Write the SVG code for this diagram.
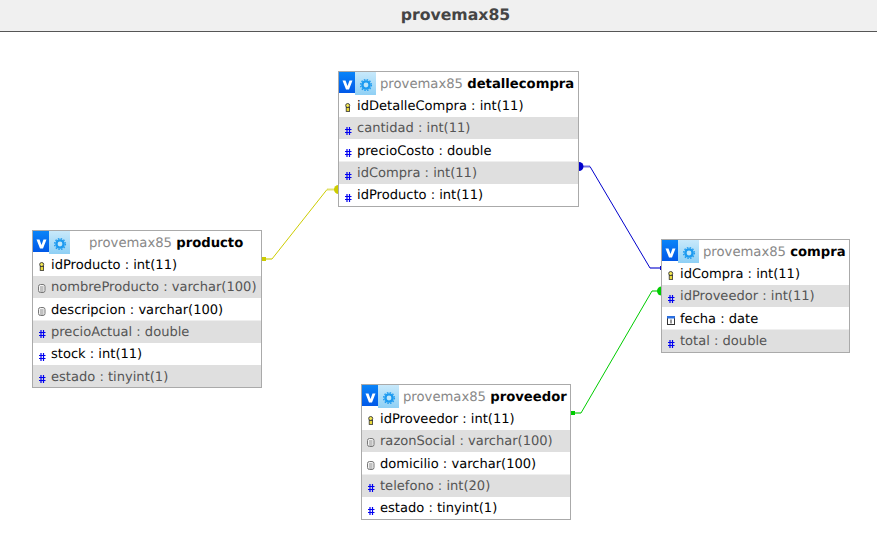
<svg xmlns="http://www.w3.org/2000/svg" width="877" height="556" viewBox="0 0 877 556">
<style>
text{font-family:"DejaVu Sans",sans-serif;font-size:13.07px;text-rendering:geometricPrecision}
.t{fill:#f0f0f0}
.title{font-size:15.7px;font-weight:bold;fill:#444;text-anchor:middle}
.box{fill:#fff;stroke:#aaa;stroke-width:1}
.alt{fill:#dfdfdf}
.r{fill:#000}
.g{fill:#555}
.hd{font-size:13.2px}
.db{fill:#888}
.b{fill:#000;font-weight:bold}
.wire{fill:none;stroke-width:1}
.stub{fill:none;stroke-width:2;stroke-opacity:.55}
</style>
<defs>
<linearGradient id="blue" x1="0" y1="0" x2="0" y2="1"><stop offset="0" stop-color="#0a84f8"/><stop offset="1" stop-color="#0058e8"/></linearGradient>
<linearGradient id="lite" x1="0" y1="0" x2="0" y2="1"><stop offset="0" stop-color="#c8e9fb"/><stop offset="1" stop-color="#8fd0f5"/></linearGradient>
<g id="head">
<rect x="16" y="0" width="21" height="23" fill="url(#lite)"/>
<rect x="0" y="0" width="16" height="21" fill="url(#blue)"/>
<path d="M3.500 8.500h3l2 5.600 2-5.600h3l-3.500 9h-3z" fill="#fff"/>
<circle cx="27" cy="13" r="3.600" fill="#bfe6fb" stroke="#1e9bf0" stroke-width="2.400"/>
<circle cx="27" cy="13" r="5.400" fill="none" stroke="#1e9bf0" stroke-width="1.400" stroke-dasharray="1.500 1.330"/>
</g>
<g id="key">
<circle cx="2.700" cy="2.500" r="2" fill="#f4e850" stroke="#444" stroke-width="1"/>
<rect x="1.200" y="4.500" width="3.400" height="4" fill="#e8d838" stroke="#333" stroke-width=".8"/>
</g>
<g id="num" stroke="#0000f0" stroke-width="1.200" fill="none">
<path d="M2 0v8M4.500 0v8M0 2.500h6.500M0 5.500h6.500"/>
</g>
<g id="str">
<rect x=".5" y=".5" width="6.500" height="8" rx="2" fill="#f4f4f4" stroke="#777"/>
<path d="M2 3h3.500M2 5h3.500M2 7h3.500" stroke="#777" stroke-width=".8"/>
</g>
<g id="date">
<rect x=".5" y=".5" width="7" height="8" fill="#fff" stroke="#333"/>
<rect x="0" y="0" width="8" height="2.500" fill="#2a6fe0"/>
<path d="M4 3.500v4" stroke="#333"/>
</g>
</defs>
<rect class="t" x="0" y="0" width="877" height="31"/>
<path d="M0 31.500H877" stroke="#555" stroke-width="1"/>
<text class="title" x="455.500" y="20">provemax85</text>

<g id="connectors">
<path class="wire" stroke="#cccc00" d="M272 259L327 189.500"/>
<path class="stub" stroke="#cccc00" d="M262 259h10M327 189.500h8"/>
<path d="M261 257h5v4h-5z" fill="#cccc00"/>
<path d="M338.500 185a4.500 4.500 0 0 0 0 9z" fill="#cccc00"/>
<path class="wire" stroke="#0000cc" d="M590 166.500L650 268"/>
<path class="stub" stroke="#0000cc" d="M582 166.500h8M650 268h11"/>
<path d="M579 162a4.500 4.500 0 0 1 0 9z" fill="#0000cc"/>
<path d="M660 266h2v4h-2z" fill="#0000cc"/>
<path class="wire" stroke="#00cc00" d="M581 413L652 291"/>
<path class="stub" stroke="#00cc00" d="M571 413h10M652 291h7"/>
<path d="M571 411h4v4h-4z" fill="#00cc00"/>
<path d="M661.500 286.500a4.500 4.500 0 0 0 0 9z" fill="#00cc00"/>
</g>

<g id="detallecompra">
<rect class="box" x="338.500" y="71.500" width="240" height="135"/>
<rect class="alt" x="339" y="117" width="239" height="22"/>
<rect class="alt" x="339" y="161.500" width="239" height="22.500"/>
<use href="#head" x="339" y="72"/>
<text class="hd" x="380" y="88"><tspan class="db">provemax85 </tspan><tspan class="b">detallecompra</tspan></text>
<use href="#key" x="345" y="103"/><text class="r" x="357" y="110">idDetalleCompra : int(11)</text>
<use href="#num" x="345" y="127"/><text class="g" x="357" y="132">cantidad : int(11)</text>
<use href="#num" x="345" y="149"/><text class="r" x="357" y="155">precioCosto : double</text>
<use href="#num" x="345" y="172"/><text class="g" x="357" y="177">idCompra : int(11)</text>
<use href="#num" x="345" y="194"/><text class="r" x="357" y="199">idProducto : int(11)</text>
</g>

<g id="producto">
<rect class="box" x="32.500" y="230.500" width="229" height="157"/>
<rect class="alt" x="33" y="276" width="228" height="22"/>
<rect class="alt" x="33" y="320.500" width="228" height="22.500"/>
<rect class="alt" x="33" y="365" width="228" height="22"/>
<use href="#head" x="33" y="231"/>
<text class="hd" x="89" y="247"><tspan class="db">provemax85 </tspan><tspan class="b">producto</tspan></text>
<use href="#key" x="39" y="262"/><text class="r" x="51" y="269">idProducto : int(11)</text>
<use href="#str" x="38" y="284"/><text class="g" x="51" y="291">nombreProducto : varchar(100)</text>
<use href="#str" x="38" y="307"/><text class="r" x="51" y="314">descripcion : varchar(100)</text>
<use href="#num" x="39" y="330"/><text class="g" x="51" y="336">precioActual : double</text>
<use href="#num" x="39" y="353"/><text class="r" x="51" y="358">stock : int(11)</text>
<use href="#num" x="39" y="375"/><text class="g" x="51" y="381">estado : tinyint(1)</text>
</g>

<g id="compra">
<rect class="box" x="661.500" y="239.500" width="188" height="113"/>
<rect class="alt" x="662" y="285" width="187" height="22"/>
<rect class="alt" x="662" y="329.500" width="187" height="22.500"/>
<use href="#head" x="662" y="240"/>
<text class="hd" x="703" y="256"><tspan class="db">provemax85 </tspan><tspan class="b">compra</tspan></text>
<use href="#key" x="668" y="271"/><text class="r" x="680" y="278">idCompra : int(11)</text>
<use href="#num" x="668" y="295"/><text class="g" x="680" y="300">idProveedor : int(11)</text>
<use href="#date" x="667" y="316"/><text class="r" x="680" y="323">fecha : date</text>
<use href="#num" x="668" y="340"/><text class="g" x="680" y="345">total : double</text>
</g>

<g id="proveedor">
<rect class="box" x="361.500" y="384.500" width="209" height="135"/>
<rect class="alt" x="362" y="430" width="208" height="22"/>
<rect class="alt" x="362" y="474.500" width="208" height="22.500"/>
<use href="#head" x="362" y="385"/>
<text class="hd" x="403" y="401"><tspan class="db">provemax85 </tspan><tspan class="b">proveedor</tspan></text>
<use href="#key" x="368" y="416"/><text class="r" x="380" y="423">idProveedor : int(11)</text>
<use href="#str" x="367" y="438"/><text class="g" x="380" y="445">razonSocial : varchar(100)</text>
<use href="#str" x="367" y="461"/><text class="r" x="380" y="468">domicilio : varchar(100)</text>
<use href="#num" x="368" y="484"/><text class="g" x="380" y="490">telefono : int(20)</text>
<use href="#num" x="368" y="507"/><text class="r" x="380" y="512">estado : tinyint(1)</text>
</g>
</svg>
